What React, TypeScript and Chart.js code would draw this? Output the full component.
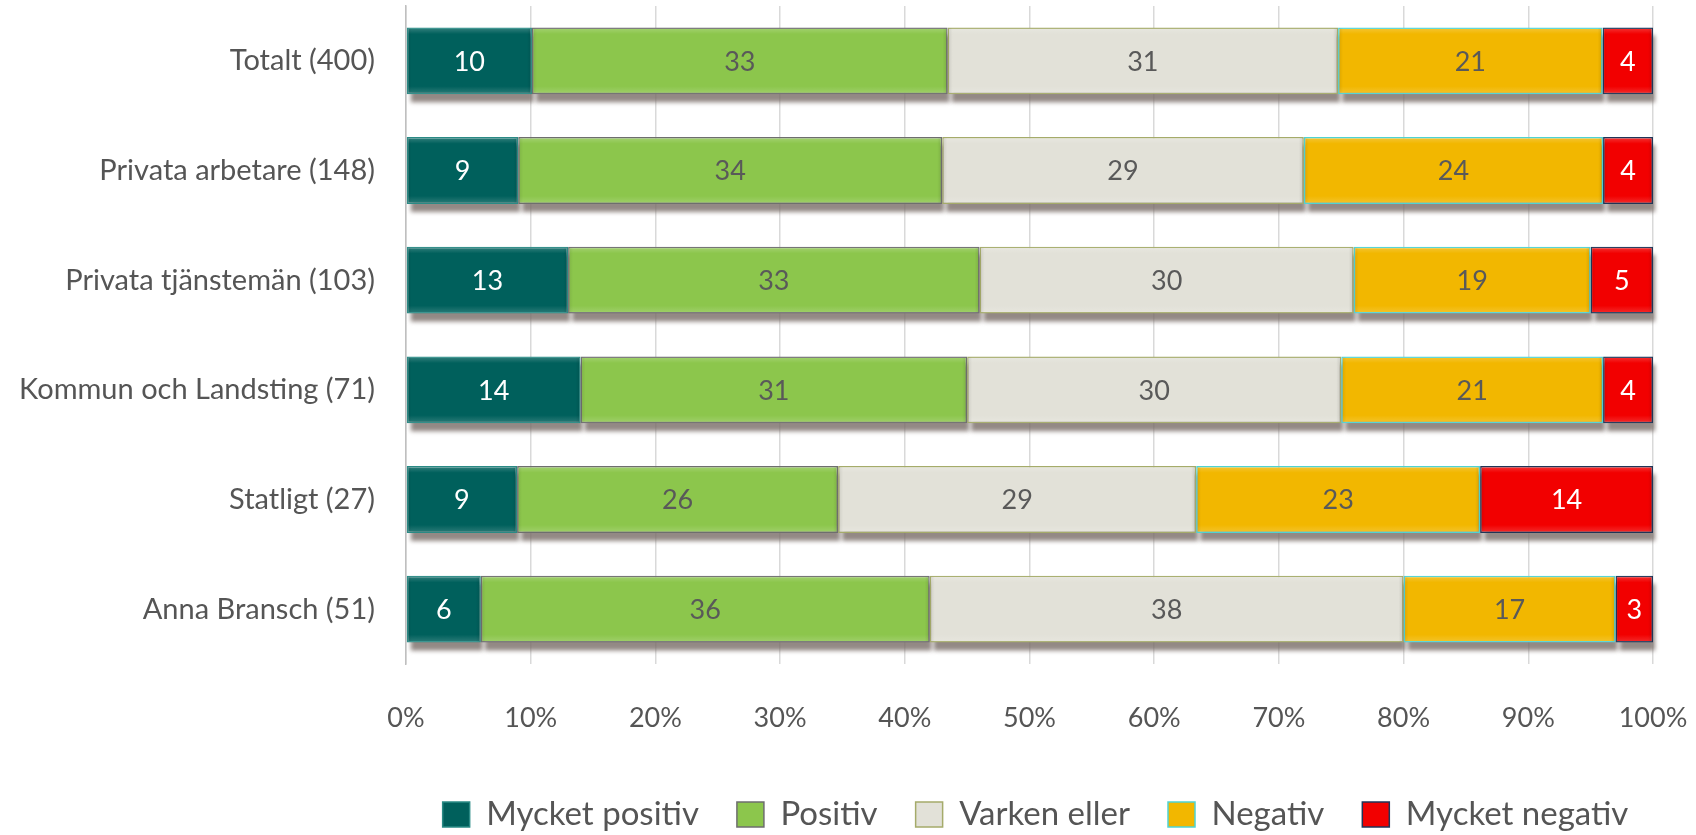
import React, { useEffect, useRef } from "react";
import { Chart, registerables } from "chart.js";

Chart.register(...registerables);

const categories = [
  "Totalt (400)",
  "Privata arbetare (148)",
  "Privata tjänstemän (103)",
  "Kommun och Landsting (71)",
  "Statligt (27)",
  "Anna Bransch (51)",
];

const seriesNames = ["Mycket positiv", "Positiv", "Varken eller", "Negativ", "Mycket negativ"];

const mycketPositiv = [10, 9, 13, 14, 9, 6];
const positiv = [33, 34, 33, 31, 26, 36];
const varkenEller = [31, 29, 30, 30, 29, 38];
const negativ = [21, 24, 19, 21, 23, 17];
const mycketNegativ = [4, 4, 5, 4, 14, 3];

const xTicks = [0, 10, 20, 30, 40, 50, 60, 70, 80, 90, 100];

const fills = ["#00605c", "#8cc64c", "#e2e1d8", "#f2b700", "#f20000"];
const borders = ["#2a8a85", "#6e6e6e", "#a5ab6a", "#4fd3d3", "#1f3558"];
const labelColors = ["#ffffff", "#595959", "#595959", "#595959", "#ffffff"];

const FONT = "Lato";
const CANVAS_W = 1680;
const CANVAS_H = 841;

export default function App() {
  const ref = useRef<HTMLCanvasElement | null>(null);

  useEffect(() => {
    const raw = [mycketPositiv, positiv, varkenEller, negativ, mycketNegativ];
    const totals = categories.map((_, i) => raw.reduce((s, arr) => s + arr[i], 0));
    const datasets = raw.map((arr, k) => ({
      label: seriesNames[k],
      data: arr.map((v, i) => (v / totals[i]) * 100),
      rawValues: arr,
      backgroundColor: fills[k],
      borderColor: borders[k],
      borderWidth: 1.5,
      borderSkipped: false,
      barPercentage: 0.61,
      categoryPercentage: 1.0,
    }));

    const rectOf = (el: any) => {
      const left = Math.min(el.x, el.base);
      const right = Math.max(el.x, el.base);
      const top = el.y - el.height / 2;
      return { left, right, top, w: right - left, h: el.height };
    };

    const barPlugin = {
      id: "barDeco",
      beforeDatasetsDraw(chart: any) {
        const ctx = chart.ctx;
        ctx.save();
        ctx.filter = "blur(2px)";
        ctx.fillStyle = "rgba(120,108,102,0.8)";
        chart.data.datasets.forEach((_: any, k: number) => {
          chart.getDatasetMeta(k).data.forEach((el: any) => {
            const r = rectOf(el);
            ctx.fillRect(r.left + 4, r.top + 8, r.w - 2, r.h);
          });
        });
        ctx.restore();
      },
      afterDatasetsDraw(chart: any) {
        const ctx = chart.ctx;
        ctx.save();
        chart.data.datasets.forEach((_: any, k: number) => {
          chart.getDatasetMeta(k).data.forEach((el: any) => {
            const r = rectOf(el);
            const g = ctx.createLinearGradient(0, r.top, 0, r.top + r.h);
            g.addColorStop(0, "rgba(255,255,255,0.22)");
            g.addColorStop(0.1, "rgba(255,255,255,0.0)");
            g.addColorStop(0.88, "rgba(255,255,255,0.0)");
            g.addColorStop(1, "rgba(255,255,255,0.18)");
            ctx.fillStyle = g;
            ctx.fillRect(r.left + 1, r.top + 1, r.w - 2, r.h - 2);
            const gx = ctx.createLinearGradient(r.left, 0, r.right, 0);
            const edge = Math.min(0.45, 5 / Math.max(r.w, 1));
            gx.addColorStop(0, "rgba(0,0,0,0.10)");
            gx.addColorStop(edge, "rgba(0,0,0,0)");
            gx.addColorStop(1 - edge, "rgba(0,0,0,0)");
            gx.addColorStop(1, "rgba(0,0,0,0.12)");
            ctx.fillStyle = gx;
            ctx.fillRect(r.left + 1, r.top + 1, r.w - 2, r.h - 2);
          });
        });
        ctx.font = `27px ${FONT}`;
        ctx.textAlign = "center";
        ctx.textBaseline = "middle";
        chart.data.datasets.forEach((ds: any, k: number) => {
          const meta = chart.getDatasetMeta(k);
          meta.data.forEach((el: any, i: number) => {
            const cx = (el.x + el.base) / 2;
            ctx.fillStyle = labelColors[k];
            ctx.fillText(String(ds.rawValues[i]), cx, el.y + 1);
          });
        });
        ctx.restore();
      },
    };

    const legendShift = {
      id: "legendShift",
      afterLayout(chart: any) {
        const lg = chart.legend;
        if (lg) {
          const target = (chart.chartArea.left + chart.chartArea.right) / 2 + 6;
          const delta = target - (lg.left + lg.right) / 2;
          lg.left += delta;
          lg.right += delta;
        }
      },
    };

    const chart = new Chart(ref.current as HTMLCanvasElement, {
      type: "bar",
      data: { labels: categories, datasets: datasets as any },
      options: {
        indexAxis: "y",
        responsive: false,
        animation: false,
        layout: { padding: { top: 6, right: 35, left: 0, bottom: 0 } },
        scales: {
          x: {
            stacked: true,
            min: 0,
            max: 100,
            afterBuildTicks(scale: any) {
              scale.ticks = xTicks.map((v) => ({ value: v }));
            },
            afterFit(scale: any) {
              scale.height = 96;
              scale.paddingLeft = 0;
              scale.paddingRight = 0;
              scale.paddingTop = 0;
              scale.paddingBottom = 0;
            },
            ticks: {
              callback: (v: any) => v + "%",
              font: { family: FONT, size: 27 },
              color: "#555555",
              padding: 38,
              maxRotation: 0,
            },
            grid: { color: "#d9d9d9", lineWidth: 1.5, drawTicks: false },
            border: { display: false },
          },
          y: {
            stacked: true,
            afterFit(scale: any) {
              scale.width = 398;
              scale.paddingTop = 0;
              scale.paddingBottom = 0;
              scale.paddingLeft = 0;
              scale.paddingRight = 0;
            },
            ticks: {
              font: { family: FONT, size: 29 },
              color: "#555555",
              padding: 31,
            },
            grid: { display: false, drawTicks: false },
            border: { display: true, color: "#bfbfbf", width: 1.5 },
          },
        },
        plugins: {
          legend: {
            position: "bottom",
            labels: {
              boxWidth: 27,
              boxHeight: 25,
              padding: 38,
              color: "#555555",
              font: { family: FONT, size: 33 },
            },
          },
          tooltip: { enabled: false },
        },
      },
      plugins: [barPlugin, legendShift],
    });
    return () => chart.destroy();
  }, []);

  return (
    <div style={{ position: "fixed", left: 8, top: 0, width: CANVAS_W, height: CANVAS_H }}>
      <canvas ref={ref} width={CANVAS_W} height={CANVAS_H} style={{ display: "block" }} />
    </div>
  );
}
